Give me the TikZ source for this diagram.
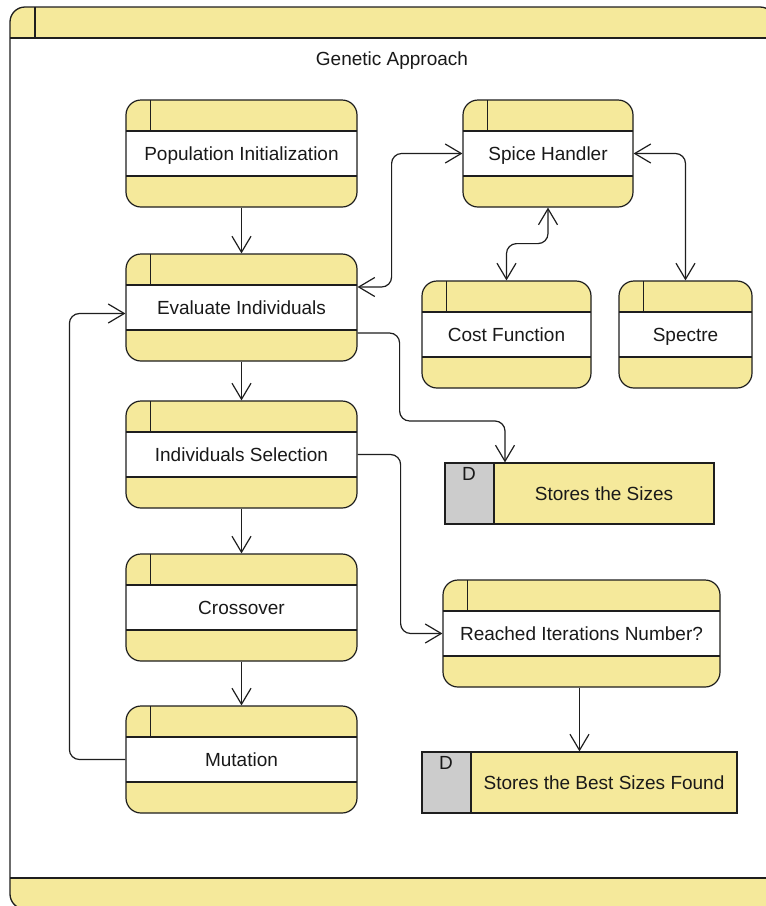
\documentclass[tikz,border=0pt]{standalone}
\usepackage{fontspec}
\setmainfont{Liberation Sans}
\usetikzlibrary{arrows.meta,calc}
\definecolor{lane}{HTML}{F5E99B}
\definecolor{ink}{HTML}{1E1E1E}
\definecolor{storegrey}{HTML}{CCCCCC}

\begin{document}
\begin{tikzpicture}[x=1pt,y=-1pt,
  >={Straight Barb[length=16pt,width=19pt]},
  every node/.style={font=\fontsize{19}{22}\selectfont, text=black!90},
  label text/.style={text height=14pt, text depth=1pt},
  pool/.style={draw=ink, line width=1.3pt, fill=lane, rounded corners=15pt,
    inner sep=0pt,
    path picture={
      \fill[white, sharp corners] ([yshift=-31pt]path picture bounding box.north west)
        rectangle ([yshift=31pt]path picture bounding box.south east);
      \draw[ink, line width=1.3pt, sharp corners]
        ([yshift=-31pt]path picture bounding box.north west)
        -- ([yshift=-31pt]path picture bounding box.north east);
      \draw[ink, line width=1.3pt, sharp corners]
        ([yshift=31pt]path picture bounding box.south west)
        -- ([yshift=31pt]path picture bounding box.south east);
      \draw[ink, line width=1.3pt, sharp corners]
        ([xshift=25pt]path picture bounding box.north west)
        -- ([xshift=25pt,yshift=-31pt]path picture bounding box.north west);
    }},
  proc/.style={draw=ink, line width=1.2pt, fill=lane, rounded corners=15pt,
    minimum height=107pt, inner sep=0pt, label text,
    path picture={
      \fill[white, sharp corners] ([yshift=22.5pt]path picture bounding box.west)
        rectangle ([yshift=-22.5pt]path picture bounding box.east);
      \draw[ink, line width=1.2pt, sharp corners]
        ([yshift=22.5pt]path picture bounding box.west)
        -- ([yshift=22.5pt]path picture bounding box.east);
      \draw[ink, line width=1.2pt, sharp corners]
        ([yshift=-22.5pt]path picture bounding box.west)
        -- ([yshift=-22.5pt]path picture bounding box.east);
      \draw[ink, line width=1.2pt, sharp corners]
        ([xshift=24.5pt]path picture bounding box.north west)
        -- ([xshift=24.5pt,yshift=22.5pt]path picture bounding box.west);
    }},
  store/.style={draw=ink, line width=1.2pt, fill=lane,
    minimum height=61pt, inner sep=0pt, label text,
    path picture={
      \fill[storegrey] (path picture bounding box.north west)
        rectangle ([xshift=49pt]path picture bounding box.south west);
      \draw[ink, line width=1.2pt]
        ([xshift=49pt]path picture bounding box.north west)
        -- ([xshift=49pt]path picture bounding box.south west);
    }},
  tag/.style={anchor=north, inner sep=0pt},
  conn/.style={draw=ink, line width=1.2pt, rounded corners=10pt}
]
\useasboundingbox (0,0) rectangle (766,906);

\begin{scope}
  \clip (0,0) rectangle (766,906);
  % outer pool
  \node[pool, minimum width=765pt, minimum height=902pt] (pool) at (392.5,458) {};
\end{scope}
\node[label text] (title) at (392,58.5) {Genetic Approach};

% processes
\node[proc, minimum width=231pt] (pop)     at (241.5,153.5) {Population Initialization};
\node[proc, minimum width=170pt] (spice)   at (548,153.5)   {Spice Handler};
\node[proc, minimum width=231pt] (eval)    at (241.5,307.5) {Evaluate Individuals};
\node[proc, minimum width=169pt] (cost)    at (506.5,334.5) {Cost Function};
\node[proc, minimum width=133pt] (spectre) at (685.5,334.5) {Spectre};
\node[proc, minimum width=231pt] (sel)     at (241.5,454.5) {Individuals Selection};
\node[proc, minimum width=231pt] (cross)   at (241.5,607.5) {Crossover};
\node[proc, minimum width=231pt] (mut)     at (241.5,759.5) {Mutation};
\node[proc, minimum width=277pt] (reach)   at (581.5,633.5) {Reached Iterations Number?};

% data stores
\node[store, minimum width=269pt] (st1) at (579.5,493.5) {\hspace*{49pt}Stores the Sizes};
\node[tag] (st1d) at ([xshift=24.5pt,yshift=-4.5pt]st1.north west) {D};
\node[store, minimum width=315pt] (st2) at (579.5,782.5) {\hspace*{49pt}Stores the Best Sizes Found};
\node[tag] (st2d) at ([xshift=24.5pt,yshift=-4.5pt]st2.north west) {D};

% flow
\draw[conn,->] (pop) -- (eval);
\draw[conn,->] (eval) -- (sel);
\draw[conn,->] (sel) -- (cross);
\draw[conn,->] (cross) -- (mut);
\draw[conn,->] (mut.west) -- ++(-56,0) |- ([yshift=-6pt]eval.west);
\draw[conn,<->] ([yshift=20.5pt]eval.east) -- ++(34,0) |- (spice.west);
\draw[conn,<->] (spice.south) -- ++(0,36) -| (cost.north);
\draw[conn,<->] (spice.east) -| (spectre.north);
\draw[conn,->] ([yshift=-25.5pt]eval.east) -- ++(42,0) -- ++(0,88) -| ([xshift=-74.5pt]st1.north);
\draw[conn,->] (sel.east) -- ++(43,0) |- (reach.west);
\draw[conn,->] ([xshift=-2pt]reach.south) -- (st2.north);
\end{tikzpicture}
\end{document}
